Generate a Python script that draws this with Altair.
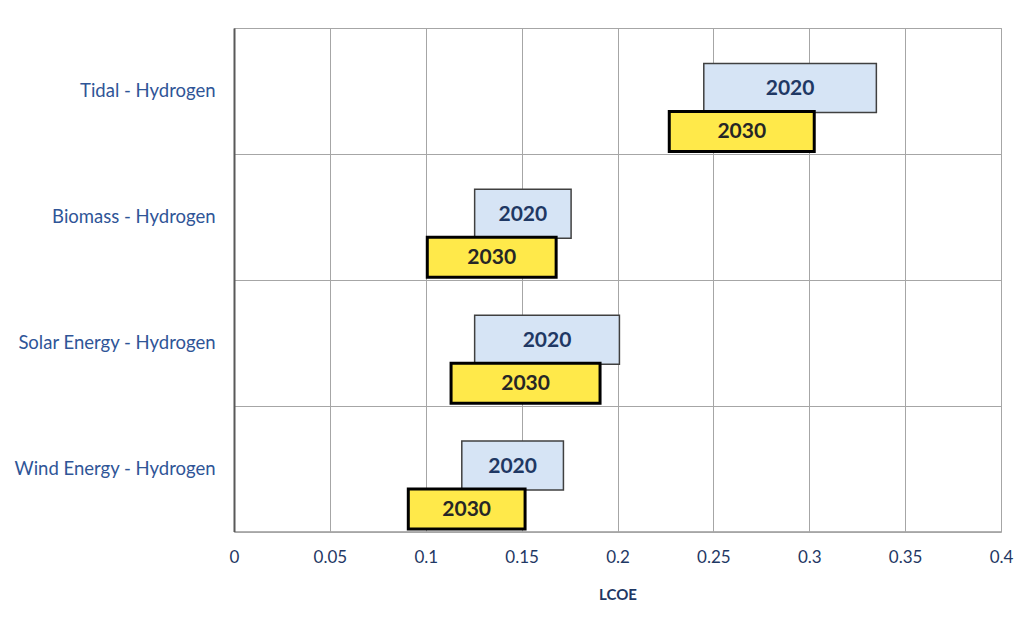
import altair as alt
import pandas as pd

categories = ["Tidal - Hydrogen", "Biomass - Hydrogen", "Solar Energy - Hydrogen", "Wind Energy - Hydrogen"]
years = ["2020", "2030"]
low_2020 = [0.245, 0.1255, 0.1255, 0.1188]
high_2020 = [0.335, 0.1758, 0.2010, 0.1718]
low_2030 = [0.227, 0.1008, 0.1132, 0.0909]
high_2030 = [0.3026, 0.168, 0.1909, 0.1518]
tick_values = [0, 0.05, 0.1, 0.15, 0.2, 0.25, 0.3, 0.35, 0.4]

rows = []
for i, c in enumerate(categories):
    rows.append({"category": c, "year": "2020", "low": low_2020[i], "high": high_2020[i]})
    rows.append({"category": c, "year": "2030", "low": low_2030[i], "high": high_2030[i]})
df = pd.DataFrame(rows)

GRID = "#a6a6a6"
FONT = "Lato"

x_enc = alt.X(
    "low:Q",
    scale=alt.Scale(domain=[0, 0.4], nice=False, zero=True),
    axis=alt.Axis(
        values=tick_values, format="~g", title="LCOE", ticks=False, labelFlush=False,
        grid=True, gridColor=GRID, gridWidth=1,
        domainColor=GRID, domainWidth=1.5,
        labelFont=FONT, labelFontSize=17, labelColor="#1f3864", labelPadding=18,
        titleFont=FONT, titleFontSize=15, titleFontWeight="bold", titleColor="#1f3864",
        titlePadding=22,
    ),
)
y_enc = alt.Y(
    "category:N", sort=categories,
    scale=alt.Scale(paddingInner=0, paddingOuter=0),
    axis=alt.Axis(
        title=None, ticks=False, tickBand="extent", grid=True, gridColor=GRID, gridWidth=1,
        domainColor="#595959", domainWidth=2, labelLimit=400,
        labelFont=FONT, labelFontSize=18.5, labelColor="#2f5597", labelPadding=19,
    ),
)

base = alt.Chart(df).encode(y=y_enc)

bar20 = base.transform_filter(alt.datum.year == "2020").mark_bar(
    height=49, yOffset=-3, fill="#d6e4f5", stroke="#404040", strokeWidth=1.5
).encode(x=x_enc, x2="high:Q")

bar30 = base.transform_filter(alt.datum.year == "2030").mark_bar(
    height=40, yOffset=40.5, fill="#ffe94a", stroke="#000000", strokeWidth=3
).encode(x=x_enc, x2="high:Q")

txt20 = base.transform_filter(alt.datum.year == "2020").transform_calculate(
    mid="(datum.low + datum.high) / 2"
).mark_text(
    yOffset=-2, font=FONT, fontSize=21, fontWeight="bold", color="#1f3864", baseline="middle"
).encode(x="mid:Q", text="year:N")

txt30 = base.transform_filter(alt.datum.year == "2030").transform_calculate(
    mid="(datum.low + datum.high) / 2"
).mark_text(
    yOffset=41.5, font=FONT, fontSize=21, fontWeight="bold", color="#262626", baseline="middle"
).encode(x="mid:Q", text="year:N")

chart = alt.layer(bar20, bar30, txt20, txt30).properties(
    width=767, height=503.5,
    autosize=alt.AutoSizeParams(type="none"),
    padding={"left": 226, "top": 20, "right": 16, "bottom": 77},
    background="white",
).configure_view(stroke=GRID, strokeWidth=1)

chart.save("out.html", embed_options={"renderer": "svg", "actions": False})
